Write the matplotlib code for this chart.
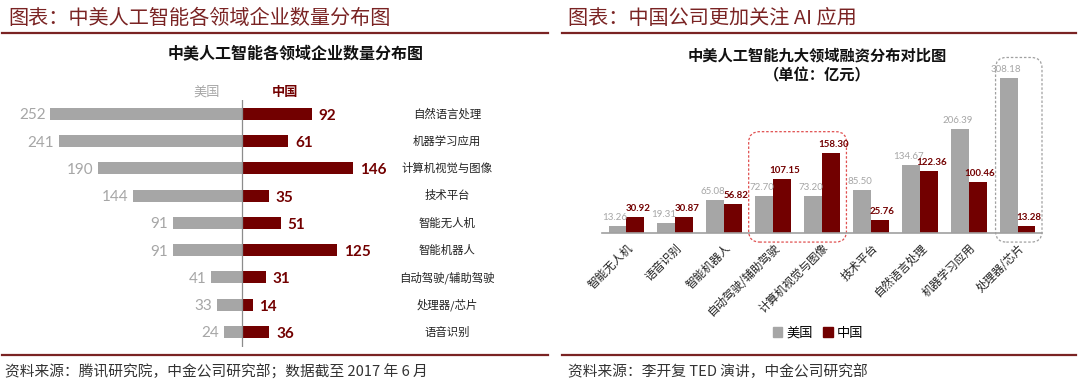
import matplotlib
matplotlib.use("Agg")
import matplotlib.pyplot as plt
from matplotlib.lines import Line2D
from matplotlib.patches import FancyBboxPatch, Patch

plt.rcParams['font.family'] = ['Noto Sans CJK SC', 'DejaVu Sans']
NUMFONT = ['Lato', 'DejaVu Sans']

# ---------------- data ----------------
left_title_header = "图表：中美人工智能各领域企业数量分布图"
left_chart_title = "中美人工智能各领域企业数量分布图"
left_categories = ["自然语言处理", "机器学习应用", "计算机视觉与图像", "技术平台", "智能无人机",
                   "智能机器人", "自动驾驶/辅助驾驶", "处理器/芯片", "语音识别"]
left_us = [252, 241, 190, 144, 91, 91, 41, 33, 24]
left_cn = [92, 61, 146, 35, 51, 125, 31, 14, 36]

right_title_header = "图表：中国公司更加关注 AI 应用"
right_chart_title = "中美人工智能九大领域融资分布对比图"
right_chart_sub = "（单位：亿元）"
right_categories = ["智能无人机", "语音识别", "智能机器人", "自动驾驶/辅助驾驶", "计算机视觉与图像",
                    "技术平台", "自然语言处理", "机器学习应用", "处理器/芯片"]
right_us = [13.26, 19.31, 65.08, 72.70, 73.20, 85.50, 134.67, 206.39, 308.18]
right_cn = [30.92, 30.87, 56.82, 107.15, 158.30, 25.76, 122.36, 100.46, 13.28]
series_names = ["美国", "中国"]

left_source = "资料来源：腾讯研究院，中金公司研究部；数据截至 2017 年 6 月"
right_source = "资料来源：李开复 TED 演讲，中金公司研究部"

GRAY = "#a6a6a6"
RED = "#720000"
HEAD = "#7a2323"

W, H = 1080, 385
fig = plt.figure(figsize=(W / 100, H / 100), dpi=100)


def px(x0, y0, x1, y1):
    return [x0 / W, 1 - y1 / H, (x1 - x0) / W, (y1 - y0) / H]


def hline(x0, x1, y, color=HEAD, lw=1.6):
    fig.add_artist(Line2D([x0 / W, x1 / W], [1 - y / H, 1 - y / H],
                          transform=fig.transFigure, color=color, lw=lw))


# headers
fig.text(8 / W, 1 - 18 / H, left_title_header, fontsize=14.5, color=HEAD, va='center', ha='left')
fig.text(568 / W, 1 - 18 / H, right_title_header, fontsize=14.5, color=HEAD, va='center', ha='left')
hline(2, 548, 33)
hline(562, 1076, 33)
# footers
hline(2, 548, 355)
hline(562, 1076, 355)
fig.text(5 / W, 1 - 372 / H, left_source, fontsize=10.6, color="#333333", va='center', ha='left')
fig.text(568 / W, 1 - 372 / H, right_source, fontsize=10.6, color="#333333", va='center', ha='left')

# ---------------- left chart ----------------
axL = fig.add_axes(px(20, 100, 480, 347))
scale = 0.76
axL.set_xlim(-(242 - 20) / scale, (480 - 242) / scale)
n = len(left_categories)
axL.set_ylim(n - 1 + 0.55, -0.51)
ypos = list(range(n))
axL.barh(ypos, [-v for v in left_us], height=0.44, color=GRAY)
axL.barh(ypos, left_cn, height=0.44, color=RED)
axL.axvline(0, color="#8c8c8c", lw=0.9)
for y, u, c, cat in zip(ypos, left_us, left_cn, left_categories):
    axL.text(-u - 6, y + 0.05, f"{u}", ha='right', va='center', fontsize=11, color=GRAY,
             family=NUMFONT)
    axL.text(c + 9, y + 0.07, f"{c}", ha='left', va='center', fontsize=11, color=RED,
             fontweight='bold', family=NUMFONT)
    axL.text((447 - 242) / scale, y, cat, ha='center', va='center', fontsize=8.2, color="#222222")
axL.text(-(242 - 207) / scale, -0.8, series_names[0], ha='center', va='center', fontsize=9.5, color=GRAY)
axL.text((285 - 242) / scale, -0.8, series_names[1], ha='center', va='center', fontsize=9.5,
         color=RED, fontweight='bold')
axL.axis('off')
fig.text(296 / W, 1 - 53 / H, left_chart_title, fontsize=11.5, fontweight='bold', ha='center',
         va='center', color="#111111")

# ---------------- right chart ----------------
axR = fig.add_axes(px(602, 60, 1042, 233))
m = len(right_categories)
axR.set_xlim(-0.5, m - 0.5)
axR.set_ylim(0, (233 - 60) / 0.504)
bw = 0.367
xs = list(range(m))
axR.bar([x - bw / 2 for x in xs], right_us, width=bw, color=GRAY, label=series_names[0])
axR.bar([x + bw / 2 for x in xs], right_cn, width=bw, color=RED, label=series_names[1])
for x, u, c in zip(xs, right_us, right_cn):
    axR.text(x - bw / 2 - 0.05, u + 8, f"{u:.2f}", ha='center', va='bottom', fontsize=7, color=GRAY,
             family=NUMFONT)
    axR.text(x + bw / 2 + 0.05, c + 8, f"{c:.2f}", ha='center', va='bottom', fontsize=7, color=RED,
             fontweight='bold', family=NUMFONT)
for s in ['top', 'right', 'left']:
    axR.spines[s].set_visible(False)
axR.spines['bottom'].set_color("#a0a0a0")
axR.spines['bottom'].set_linewidth(1.2)
axR.set_yticks([])
axR.set_xticks(xs)
axR.set_xticklabels(right_categories, rotation=45, ha='right', rotation_mode='anchor',
                    fontsize=8.3, color="#222222")
axR.tick_params(axis='x', length=0, pad=6)

# highlight boxes
asp = (49 / 0.504)
box1 = FancyBboxPatch((3 - 0.5, -18), 2.0, max(right_cn[3:5]) * 1.27 + 18,
                      boxstyle="round,pad=0,rounding_size=0.22", mutation_aspect=asp,
                      fill=False, ec="#e05050", lw=0.9, ls=(0, (2, 1.5)), clip_on=False)
box2 = FancyBboxPatch((8 - 0.45, -18), 0.95, right_us[8] * 1.13 + 18,
                      boxstyle="round,pad=0,rounding_size=0.22", mutation_aspect=asp,
                      fill=False, ec="#a0a0a0", lw=0.9, ls=(0, (2, 1.5)), clip_on=False)
axR.add_patch(box1)
axR.add_patch(box2)

fig.text(817 / W, 1 - 56 / H, right_chart_title, fontsize=11, fontweight='bold', ha='center',
         va='center', color="#111111")
fig.text(817 / W, 1 - 75 / H, right_chart_sub, fontsize=11, fontweight='bold', ha='center',
         va='center', color="#111111")

fig.legend(handles=[Patch(color=GRAY), Patch(color=RED)], labels=series_names,
           loc='center', bbox_to_anchor=(818 / W, 1 - 333 / H), ncol=2, frameon=False,
           fontsize=9.5, handlelength=0.7, handleheight=0.7, handletextpad=0.3, columnspacing=0.8)

fig.savefig("out.png", dpi=100)
